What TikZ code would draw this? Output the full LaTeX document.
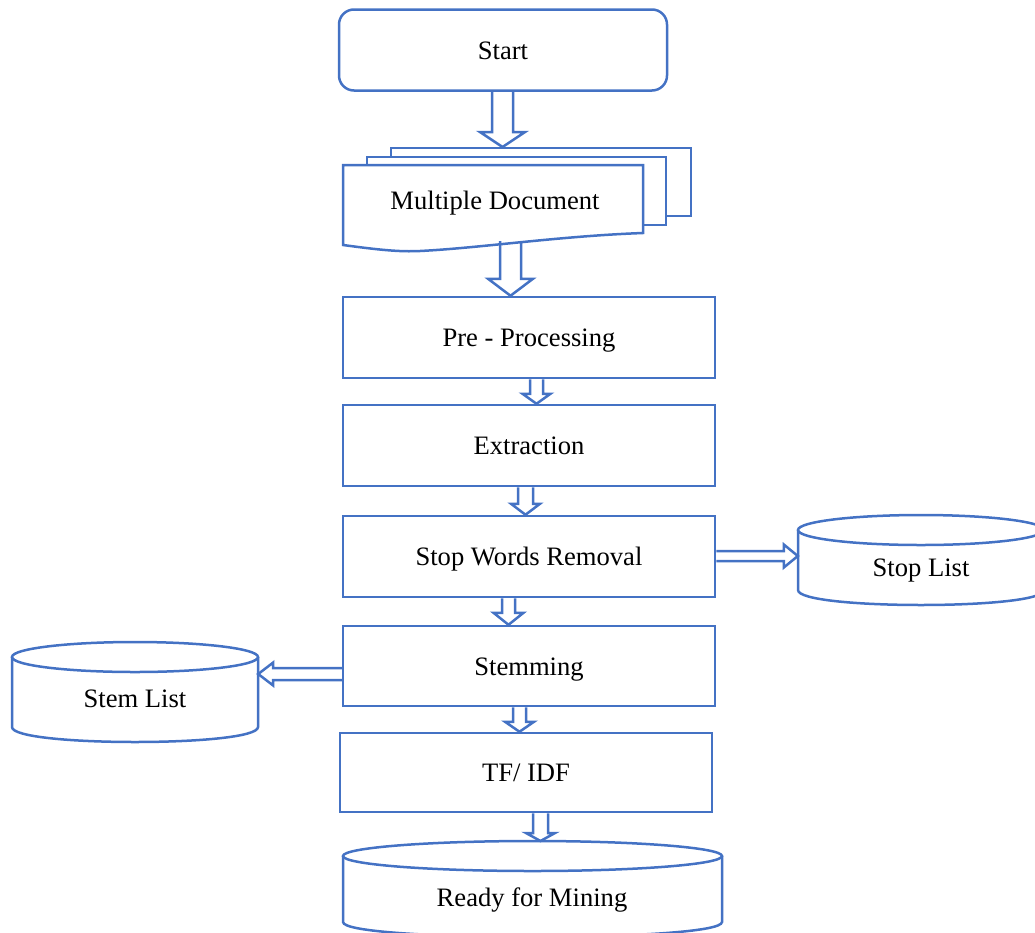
\documentclass[tikz,border=0pt]{standalone}
\usepackage{fontspec}
\setmainfont{Liberation Serif}
\usetikzlibrary{calc}
\definecolor{ofblue}{HTML}{4472C4}

\tikzset{
  outline/.style={draw=ofblue, line width=2.5pt, line join=miter},
  txt/.style={inner sep=0pt, text height=18pt, text depth=0pt,
    font=\fontsize{26.6}{32}\selectfont, text=black},
  procbox/.style={txt, outline, rectangle, minimum width=372pt, minimum height=81pt},
  startbox/.style={procbox, rounded corners=15pt, minimum width=328pt},
  blockarrow/.style={outline},
}

% hollow block arrow pointing down: #1 from, #2 to, #3 centre x, #4 shaft half-width,
% #5 head half-width, #6 head length
\newcommand\blockdown[6]{%
  \draw[blockarrow] let \p1=(#1), \p2=(#2) in
    (#3pt-#4pt,\y1) -- (#3pt-#4pt,\y2+#6pt) -- (#3pt-#5pt,\y2+#6pt) -- (#3pt,\y2)
    -- (#3pt+#5pt,\y2+#6pt) -- (#3pt+#4pt,\y2+#6pt) -- (#3pt+#4pt,\y1);}
% hollow block arrow pointing right / left: #3 is the row (pixel y)
\newcommand\blockright[6]{%
  \draw[blockarrow] let \p1=(#1), \p2=(#2) in
    (\x1,-#3pt+#4pt) -- (\x2-#6pt,-#3pt+#4pt) -- (\x2-#6pt,-#3pt+#5pt) -- (\x2,-#3pt)
    -- (\x2-#6pt,-#3pt-#5pt) -- (\x2-#6pt,-#3pt-#4pt) -- (\x1,-#3pt-#4pt);}
\newcommand\blockleft[6]{%
  \draw[blockarrow] let \p1=(#1), \p2=(#2) in
    (\x1,-#3pt+#4pt) -- (\x2+#6pt,-#3pt+#4pt) -- (\x2+#6pt,-#3pt+#5pt) -- (\x2,-#3pt)
    -- (\x2+#6pt,-#3pt-#5pt) -- (\x2+#6pt,-#3pt-#4pt) -- (\x1,-#3pt-#4pt);}
% drum (database) outline: #1 left x, #2 right x, #3 top rim centre y,
% #4 bottom rim centre y, #5 rim radius
\newcommand\drum[5]{%
  \draw[outline] (#1,#3) -- (#1,#4)
    .. controls (#1,{#4+1.333*#5}) and (#2,{#4+1.333*#5}) .. (#2,#4) -- (#2,#3);
  \draw[outline] ({(#1+#2)/2},#3) ellipse [x radius={(#2-#1)/2}, y radius=#5];}

\begin{document}
\begin{tikzpicture}[x=1pt, y=-1pt]
  \useasboundingbox (0,0) rectangle (1035,932);

  % start
  \node[startbox, minimum height=81pt] (start) at (503,50) {Start};

  % stacked documents
  \draw[outline] (391,157) -- (391,148) -- (691,148) -- (691,216) -- (666,216);
  \draw[outline] (367,165) -- (367,157) -- (666,157) -- (666,225) -- (643,225);
  \draw[outline] (643,233) .. controls (560,236) and (480,248) .. (420,251)
    .. controls (400,252) and (380,250) .. (343,245) -- (343,165) -- (643,165) -- cycle;
  \node[txt] (docs) at (495,200) {Multiple Document};
  \coordinate (docin) at (502.5,147);
  \coordinate (docout) at (510.5,241);

  % processing steps
  \node[procbox] (pre)  at (529,337.5) {Pre - Processing};
  \node[procbox] (ext)  at (529,445.5) {Extraction};
  \node[procbox] (stopw) at (529,556.5) {Stop Words Removal};
  \node[procbox, minimum height=80pt] (stem) at (529,666) {Stemming};
  \node[procbox, minimum height=79pt] (tfidf) at (526,772.5) {TF/ IDF};

  % stores
  \drum{798}{1044}{530}{590}{15}
  \node[txt, minimum width=246pt] (stoplist) at (921,567) {Stop List};
  \drum{12}{258}{657}{727}{15}
  \node[txt, minimum width=246pt] (stemlist) at (135,698) {Stem List};
  \drum{343}{722}{856}{922}{15}
  \node[txt] (ready) at (532,897) {Ready for Mining};
  \coordinate (readytop) at (540.5,841);

  % flow arrows
  \blockdown{start.south}{docin}{502.5}{10.5}{22.5}{15}
  \blockdown{docout}{pre.north}{510.5}{10.5}{22.5}{17}
  \blockdown{pre.south}{ext.north}{536.5}{6.5}{14}{10}
  \blockdown{ext.south}{stopw.north}{525.5}{7.5}{14.5}{11}
  \blockdown{stopw.south}{stem.north}{508.5}{6.5}{15}{12}
  \blockdown{stem.south}{tfidf.north}{519.5}{6.5}{14.5}{10}
  \blockdown{tfidf.south}{readytop}{540.5}{7.5}{14.5}{8}
  \blockright{stopw.east}{stoplist.west}{556}{5}{11.5}{14}
  \blockleft{stem.west}{stemlist.east}{674}{6}{11.5}{15}
\end{tikzpicture}
\end{document}
